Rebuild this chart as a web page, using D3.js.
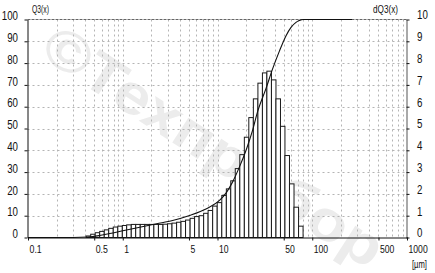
<!DOCTYPE html>
<html lang="ru">
<head>
  <meta charset="utf-8">
  <title>Q3 / dQ3</title>
  <script src="https://cdnjs.cloudflare.com/ajax/libs/d3/7.8.5/d3.min.js"></script>
  <style>
  body { margin: 0; background: #fff; }
  #chart { display: block; }
  .lbl {
    font-family: "Liberation Sans", Arial, sans-serif;
    fill: #111;
  }
  </style>
</head>
<body>
<svg id="chart"></svg>
<script>
// bin edges (µm) of the histogram, ascending
var binEdges = [0.411,0.459,0.512,0.571,0.638,0.711,0.794,0.887,0.99,1.10,1.23,1.37,1.53,1.71,1.91,2.13,2.38,2.66,2.97,3.31,3.70,4.12,4.60,5.14,5.73,6.40,7.14,7.96,8.89,9.93,11.1,12.4,13.8,15.4,17.2,19.2,21.4,23.9,26.7,29.8,33.2,37.1,41.4,46.2,51.5,57.5,64.2,71.7,80.0];
// dQ3(x) per bin
var dQ3 = [0.07,0.15,0.22,0.28,0.35,0.42,0.48,0.52,0.55,0.58,0.6,0.6,0.6,0.6,0.6,0.6,0.6,0.61,0.63,0.66,0.7,0.74,0.8,0.88,0.96,1.0,1.11,1.24,1.44,1.6,1.93,2.23,2.6,3.16,3.8,4.6,5.5,6.36,7.08,7.55,7.63,7.23,6.36,5.1,3.76,2.46,1.39,0.52];
// cumulative Q3(x) curve
var q3Size = [0.1,0.3,0.43,0.57,0.73,1.0,1.51,2.28,3.36,5.07,7.65,10.5,12.4,14.4,17.1,20.2,23.4,26.4,32.6,37.9,45,52.9,59.7,67.4,73,80,263];
var q3Val  = [0,0,0.2,0.9,1.8,3.1,4.7,6.3,7.8,10.1,13.2,17,20.6,25.4,32.5,40.5,49,57.5,68.5,77,85.5,92.6,96.4,98.7,99.5,100,100];
// axis ticks
var xTicks = [0.1,0.5,1,5,10,50,100,500,1000];
var yLeftTicks = [0,10,20,30,40,50,60,70,80,90,100];
var yRightTicks = [0,1,2,3,4,5,6,7,8,9,10];

var w = 435, h = 273;
var padL = 27.5, padR = 406.5, padT = 19.5, padB = 237.5;

var svg = d3.select("#chart").attr("width", w).attr("height", h);
svg.append("rect").attr("width", w).attr("height", h).attr("fill", "#fff");

var x = d3.scaleLog().domain([0.1, 1000]).range([28, 407]);
var yL = d3.scaleLinear().domain([0, 100]).range([padB, padT]);
var yR = d3.scaleLinear().domain([0, 10]).range([padB, padT]);

// narrow the labels a bit, like the original's condensed face
function narrow(sel, digitW) {
  sel.attr("textLength", function() {
    var s = this.textContent;
    var n = s.replace(/[^0-9]/g, "").length;
    return n * digitW + (s.length - n) * 2.6;
  }).attr("lengthAdjust", "spacingAndGlyphs");
}

// watermark
svg.append("text")
  .attr("transform", "translate(214,146) rotate(33)")
  .attr("text-anchor", "middle")
  .attr("dy", "0.35em")
  .attr("textLength", 395)
  .attr("lengthAdjust", "spacingAndGlyphs")
  .style("font-family", "Liberation Sans, Arial, sans-serif")
  .style("font-weight", "bold")
  .style("font-size", "56px")
  .attr("fill", "#ececec")
  .text("©Техприбор");

// grid
var gridX = [];
[0.1, 1, 10, 100].forEach(function(dec) {
  for (var m = 1; m <= 9; m++) {
    var v = dec * m;
    if (v > 0.1 && v < 1000) gridX.push(v);
  }
});
var grid = svg.append("g").attr("stroke", "#b4b4b4").attr("stroke-dasharray", "2,3");
grid.selectAll(".gx").data(gridX).enter().append("line")
  .attr("x1", function(d) { return Math.round(x(d)) + 0.5; })
  .attr("x2", function(d) { return Math.round(x(d)) + 0.5; })
  .attr("y1", padT).attr("y2", padB);
grid.selectAll(".gy").data(yLeftTicks.slice(1, -1)).enter().append("line")
  .attr("x1", padL).attr("x2", padR)
  .attr("y1", function(d) { return Math.round(yL(d)) + 0.5; })
  .attr("y2", function(d) { return Math.round(yL(d)) + 0.5; });

// histogram bars
var bars = dQ3.map(function(v, i) { return { x0: binEdges[i], x1: binEdges[i + 1], v: v }; });
svg.append("g").selectAll("rect").data(bars).enter().append("rect")
  .attr("x", function(d) { return x(d.x0); })
  .attr("width", function(d) { return x(d.x1) - x(d.x0); })
  .attr("y", function(d) { return yR(d.v); })
  .attr("height", function(d) { return padB - yR(d.v); })
  .attr("fill", "#fff")
  .attr("stroke", "#1a1a1a")
  .attr("stroke-width", 1);

// top frame line (dashed)
svg.append("line").attr("x1", padL).attr("x2", padR).attr("y1", padT).attr("y2", padT)
  .attr("stroke", "#666").attr("stroke-dasharray", "3,1");

// cumulative curve
var pts = q3Size.map(function(s, i) { return [s, q3Val[i]]; });
svg.append("path")
  .datum(pts)
  .attr("fill", "none")
  .attr("stroke", "#111")
  .attr("stroke-width", 1.1)
  .attr("d", d3.line()
    .x(function(d) { return x(d[0]); })
    .y(function(d) { return yL(d[1]); })
    .curve(d3.curveMonotoneX));

// axes
var axL = svg.append("g").attr("transform", "translate(" + padL + ",0)")
  .call(d3.axisLeft(yL).tickValues(yLeftTicks).tickSize(3).tickSizeOuter(0).tickPadding(6.5));
var axR = svg.append("g").attr("transform", "translate(" + padR + ",0)")
  .call(d3.axisRight(yR).tickValues(yRightTicks).tickSize(3).tickSizeOuter(0).tickPadding(7.5));
var axB = svg.append("g").attr("transform", "translate(0," + padB + ")")
  .call(d3.axisBottom(x).tickValues(xTicks).tickSize(3).tickSizeOuter(0)
    .tickFormat(function(d) { return String(d); }));

[axL, axR, axB].forEach(function(ax) {
  ax.selectAll("text").attr("class", "lbl").attr("fill", "#111");
  ax.select(".domain").attr("stroke", "#111");
  ax.selectAll(".tick line").attr("stroke", "#111");
});
axR.select(".domain").attr("stroke", "#555");
axL.selectAll("text").attr("dy", "0.02em").style("font-size", "12.5px").call(narrow, 5.4);
axR.selectAll("text").attr("dy", "-0.05em").style("font-size", "12.5px").call(narrow, 5.4);
axB.selectAll("text")
  .attr("text-anchor", "start")
  .attr("x", 1)
  .attr("y", 15.5)
  .attr("dy", 0)
  .style("font-size", "11.5px")
  .call(narrow, 4.8);

// titles
svg.append("text").attr("class", "lbl").attr("x", 32).attr("y", 13)
  .style("font-size", "10.5px").attr("textLength", 17).attr("lengthAdjust", "spacingAndGlyphs")
  .text("Q3(x)");
svg.append("text").attr("class", "lbl").attr("x", 373).attr("y", 13)
  .style("font-size", "10.5px").attr("textLength", 25).attr("lengthAdjust", "spacingAndGlyphs")
  .text("dQ3(x)");
svg.append("text").attr("class", "lbl").attr("x", 412).attr("y", 268)
  .style("font-size", "10px").attr("textLength", 15).attr("lengthAdjust", "spacingAndGlyphs")
  .text("[µm]");
</script>
</body>
</html>
